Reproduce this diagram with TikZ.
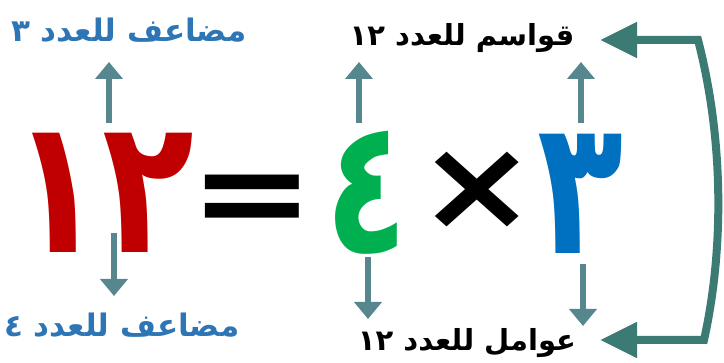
\documentclass[tikz,border=0pt]{standalone}
\usepackage{fontspec}
\usetikzlibrary{arrows.meta}
\TeXXeTstate=1
\newfontfamily\arabicfont[Script=Arabic]{DejaVu Sans}
\definecolor{lblblue}{HTML}{2E75B6}
\definecolor{digred}{HTML}{C00000}
\definecolor{diggreen}{HTML}{00B050}
\definecolor{digblue}{HTML}{0070C0}
\definecolor{arrowc}{HTML}{56878F}
\definecolor{bracketc}{HTML}{3B7B73}
\begin{document}
\begin{tikzpicture}[x=1pt,y=-1pt,
  lbl/.style={inner sep=0pt,font=\arabicfont\bfseries\fontsize{31}{31}\selectfont},
  lblk/.style={inner sep=0pt,font=\arabicfont\bfseries\fontsize{29}{29}\selectfont},
  bigdig/.style={inner sep=0pt,font=\arabicfont\bfseries\fontsize{188}{188}\selectfont},
  bigsym/.style={inner sep=0pt,font=\arabicfont\bfseries\fontsize{150}{150}\selectfont},
  smallarrow/.style={draw=arrowc,line width=6pt,-{Triangle[width=27pt,length=17pt]}},
  bracketarrow/.style={draw=bracketc,line width=8pt,{Triangle[width=34pt,length=37pt]}-{Triangle[width=34pt,length=37pt]}}]
\useasboundingbox (0,0) rectangle (724,363);
% labels
\node[lbl,text=lblblue] (mul3) at (129,30) {\beginR مضاعف للعدد ٣\endR};
\node[lbl,text=lblblue] (mul4) at (122,325) {\beginR مضاعف للعدد ٤\endR};
\node[lblk,text=black] (div12) at (462,38) {\beginR قواسم للعدد \beginL١٢\endL\endR};
\node[lblk,text=black] (fac12) at (467,343) {\beginR عوامل للعدد \beginL١٢\endL\endR};
% big equation
\node[bigdig,text=digred] (twelve) at (103,193) {\scalebox{0.8}[1]{١٢}};
\node[bigsym,text=black] (eq) at (252,206) {\scalebox{1.0}[0.85]{=}};
\node[bigdig,text=diggreen] (four) at (367,193) {\scalebox{0.72}[1]{٤}};
\node[bigsym,text=black] (times) at (477,191) {\scalebox{0.95}[0.85]{×}};
\node[bigdig,text=digblue] (three) at (581,194) {\scalebox{0.75}[1]{٣}};
% arrow end coordinates
\coordinate (a1s) at (109,123); \coordinate (a1e) at (109,62);
\coordinate (a2s) at (114,233); \coordinate (a2e) at (114,296);
\coordinate (a3s) at (359,123); \coordinate (a3e) at (359,62);
\coordinate (a4s) at (368,257); \coordinate (a4e) at (368,319);
\coordinate (a5s) at (581,123); \coordinate (a5e) at (581,62);
\coordinate (a6s) at (583,264); \coordinate (a6e) at (583,326);
\draw[smallarrow] (a1s) -- (a1e);
\draw[smallarrow] (a2s) -- (a2e);
\draw[smallarrow] (a3s) -- (a3e);
\draw[smallarrow] (a4s) -- (a4e);
\draw[smallarrow] (a5s) -- (a5e);
\draw[smallarrow] (a6s) -- (a6e);
% bracket
\coordinate (btop) at (600,40);
\coordinate (bbot) at (600,340);
\draw[bracketarrow] (btop) -- (698,40) .. controls (724,140) and (724,250) .. (704,340) -- (bbot);
\end{tikzpicture}
\end{document}
